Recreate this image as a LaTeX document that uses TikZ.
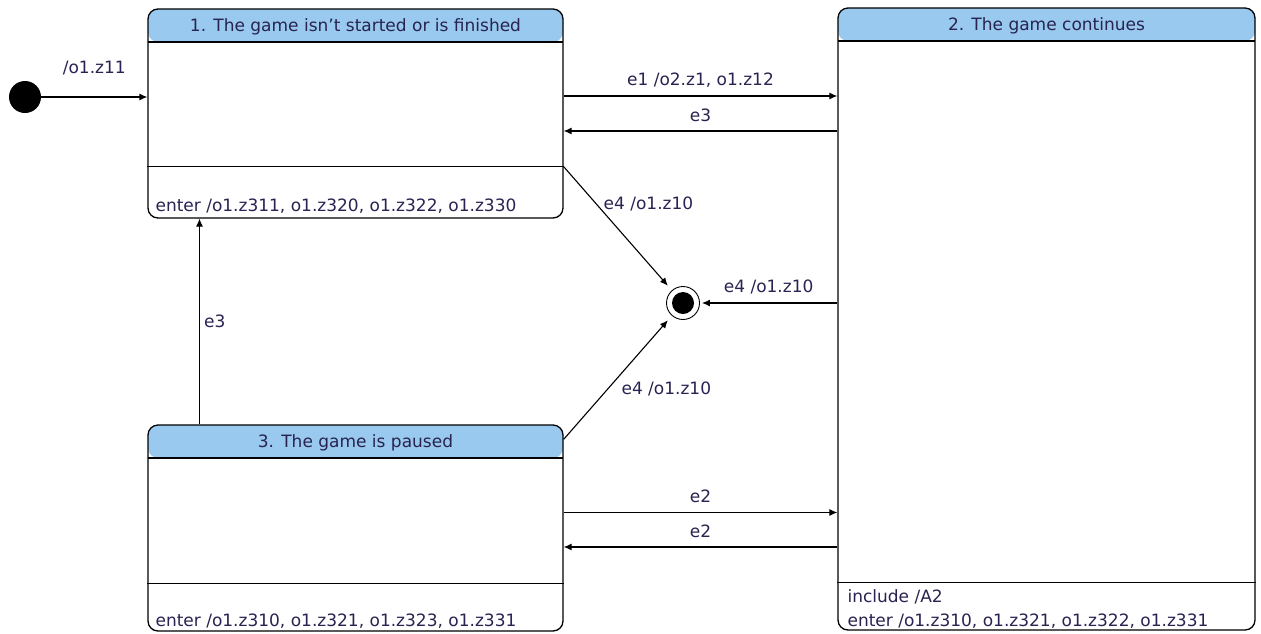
\documentclass[tikz,border=0pt]{standalone}
\usepackage{fontspec}
\setmainfont{DejaVu Sans}
\usetikzlibrary{arrows.meta,positioning}

\definecolor{hdrblue}{RGB}{153,201,239}
\definecolor{txtcol}{RGB}{40,35,80}

\tikzset{
  state/.style={draw, line width=1.3pt, rounded corners=10pt, inner sep=0pt,
    path picture={
      \fill[hdrblue] (path picture bounding box.north west) rectangle ([yshift=-33pt]path picture bounding box.north east);
      \draw[line width=1.3pt] ([yshift=-33pt]path picture bounding box.north west) -- ([yshift=-33pt]path picture bounding box.north east);
    }},
  lbl/.style={text=txtcol, font=\fontsize{17}{20}\selectfont, inner sep=1pt},
  trans/.style={->, line width=1.1pt},
  divider/.style={line width=1.3pt},
}

\begin{document}
\begin{tikzpicture}[x=1pt, y=-1pt, >={Latex[length=8pt,width=7pt]}]
\useasboundingbox (0,0) rectangle (1261,633);

% states
\node[state, minimum width=415pt, minimum height=209pt] (s1) at (355.5,113.5) {};
\node[state, minimum width=417pt, minimum height=622pt] (s2) at (1046.5,319) {};
\node[state, minimum width=415pt, minimum height=206pt] (s3) at (355.5,528) {};

\node[lbl] (s1-title) at ([yshift=-18pt]s1.north) {1. The game isn't started or is finished};
\node[lbl] (s2-title) at ([yshift=-18pt]s2.north) {2. The game continues};
\node[lbl] (s3-title) at ([yshift=-18pt]s3.north) {3. The game is paused};

\draw[divider] ([yshift=52pt]s1.south west) -- ([yshift=52pt]s1.south east);
\draw[divider] ([yshift=48pt]s2.south west) -- ([yshift=48pt]s2.south east);
\draw[divider] ([yshift=48pt]s3.south west) -- ([yshift=48pt]s3.south east);

\node[lbl, anchor=west] (s1-enter) at ([xshift=7pt, yshift=12pt]s1.south west) {enter /o1.z311, o1.z320, o1.z322, o1.z330};
\node[lbl, anchor=west] (s2-incl) at ([xshift=9pt, yshift=34pt]s2.south west) {include /A2};
\node[lbl, anchor=west] (s2-enter) at ([xshift=9pt, yshift=9pt]s2.south west) {enter /o1.z310, o1.z321, o1.z322, o1.z331};
\node[lbl, anchor=west] (s3-enter) at ([xshift=7pt, yshift=10pt]s3.south west) {enter /o1.z310, o1.z321, o1.z323, o1.z331};

% initial and final states
\node[circle, fill=black, minimum size=32pt, inner sep=0pt] (init) at (25,97) {};
\node[circle, draw, line width=0.9pt, minimum size=33pt, inner sep=0pt] (fin) at (683,303) {};
\node[circle, fill=black, minimum size=22pt, inner sep=0pt] (fin-dot) at (fin) {};

\coordinate (s1-corner) at ([yshift=52pt]s1.south east);
\coordinate (s3-corner) at ([yshift=-15pt]s3.north east);

% transitions
\draw[trans] (init) -- (init -| s1.west) node[lbl, midway, yshift=29pt] (l-init) {/o1.z11};
\draw[trans] ([yshift=17.5pt]s1.east) -- ([yshift=17.5pt]s1.east -| s2.west) node[lbl, midway, yshift=16pt] (l-e1) {e1 /o2.z1, o1.z12};
\draw[trans] ([yshift=-17.5pt]s1.east -| s2.west) -- ([yshift=-17.5pt]s1.east) node[lbl, midway, yshift=16pt] (l-e3a) {e3};
\draw[trans] ([yshift=15.5pt]s3.east) -- ([yshift=15.5pt]s3.east -| s2.west) node[lbl, midway, yshift=16pt] (l-e2a) {e2};
\draw[trans] ([yshift=-19pt]s3.east -| s2.west) -- ([yshift=-19pt]s3.east) node[lbl, midway, yshift=16pt] (l-e2b) {e2};
\draw[trans] ([xshift=-156pt]s3.north) -- ([xshift=-156pt]s1.south) node[lbl, midway, right=3pt] (l-e3b) {e3};

\draw[trans, shorten >=6pt] (s1-corner) -- (fin) node[lbl, pos=0.3, right=6pt] (l-e4a) {e4 /o1.z10};
\draw[trans, shorten >=2pt] (fin -| s2.west) -- (fin) node[lbl, midway, yshift=16pt] (l-e4b) {e4 /o1.z10};
\draw[trans, shorten >=6pt] (s3-corner) -- (fin) node[lbl, pos=0.41, right=12pt] (l-e4c) {e4 /o1.z10};

\end{tikzpicture}
\end{document}
